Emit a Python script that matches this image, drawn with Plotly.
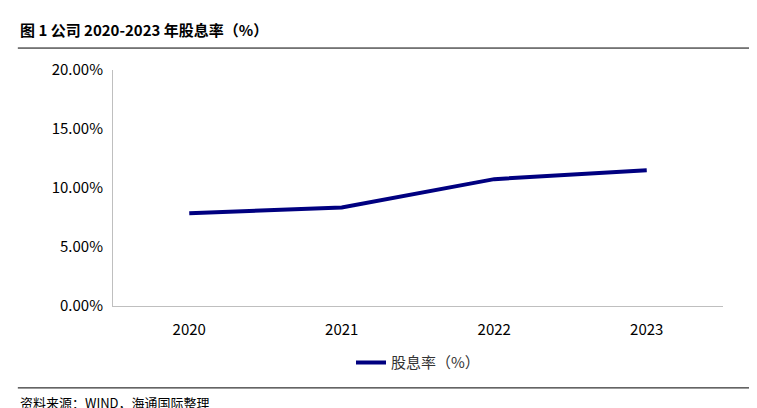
import plotly.graph_objects as go

years = ["2020", "2021", "2022", "2023"]
dividend_yield = [7.85, 8.35, 10.75, 11.5]
series_name = "股息率（%）"
title_text = "图 1 公司 2020-2023 年股息率（%）"
source_text = "资料来源：WIND，海通国际整理"

fig = go.Figure()
fig.add_trace(go.Scatter(
    x=years, y=dividend_yield, mode="lines", name=series_name,
    line=dict(color="#000080", width=4),
))

fig.update_layout(
    width=757, height=408,
    margin=dict(l=105, r=42, t=62, b=110, autoexpand=False),
    plot_bgcolor="white", paper_bgcolor="white",
    font=dict(family="Noto Sans CJK SC, Liberation Sans", size=15, color="#000"),
    showlegend=True,
    legend=dict(orientation="h", x=0.5, xanchor="center", y=-0.24, yanchor="middle",
                font=dict(size=15, color="#333")),
    xaxis=dict(range=[-0.5, 3.5], showline=True, linecolor="#bfbfbf", linewidth=1, ticks="",
               showgrid=False, tickfont=dict(size=15), ticklabelstandoff=10),
    yaxis=dict(range=[0, 20], dtick=5, tickformat=".2f", ticksuffix="%",
               showline=True, linecolor="#bfbfbf", linewidth=1, showgrid=False,
               zeroline=False, tickfont=dict(size=15), ticklabelstandoff=6),
    shapes=[
        dict(type="line", xref="paper", yref="paper", x0=-0.156, x1=1.07, y0=1.093, y1=1.093,
             line=dict(color="#000", width=1)),
        dict(type="line", xref="paper", yref="paper", x0=-0.156, x1=1.07, y0=-0.347, y1=-0.347,
             line=dict(color="#000", width=1)),
    ],
    annotations=[
        dict(text="<b>" + title_text + "</b>", xref="paper", yref="paper", x=-0.156, y=1.17,
             xanchor="left", yanchor="middle", showarrow=False, font=dict(size=15)),
        dict(text=source_text, xref="paper", yref="paper", x=-0.156, y=-0.41,
             xanchor="left", yanchor="middle", showarrow=False, font=dict(size=13)),
    ],
)

fig.write_html("out.html")
